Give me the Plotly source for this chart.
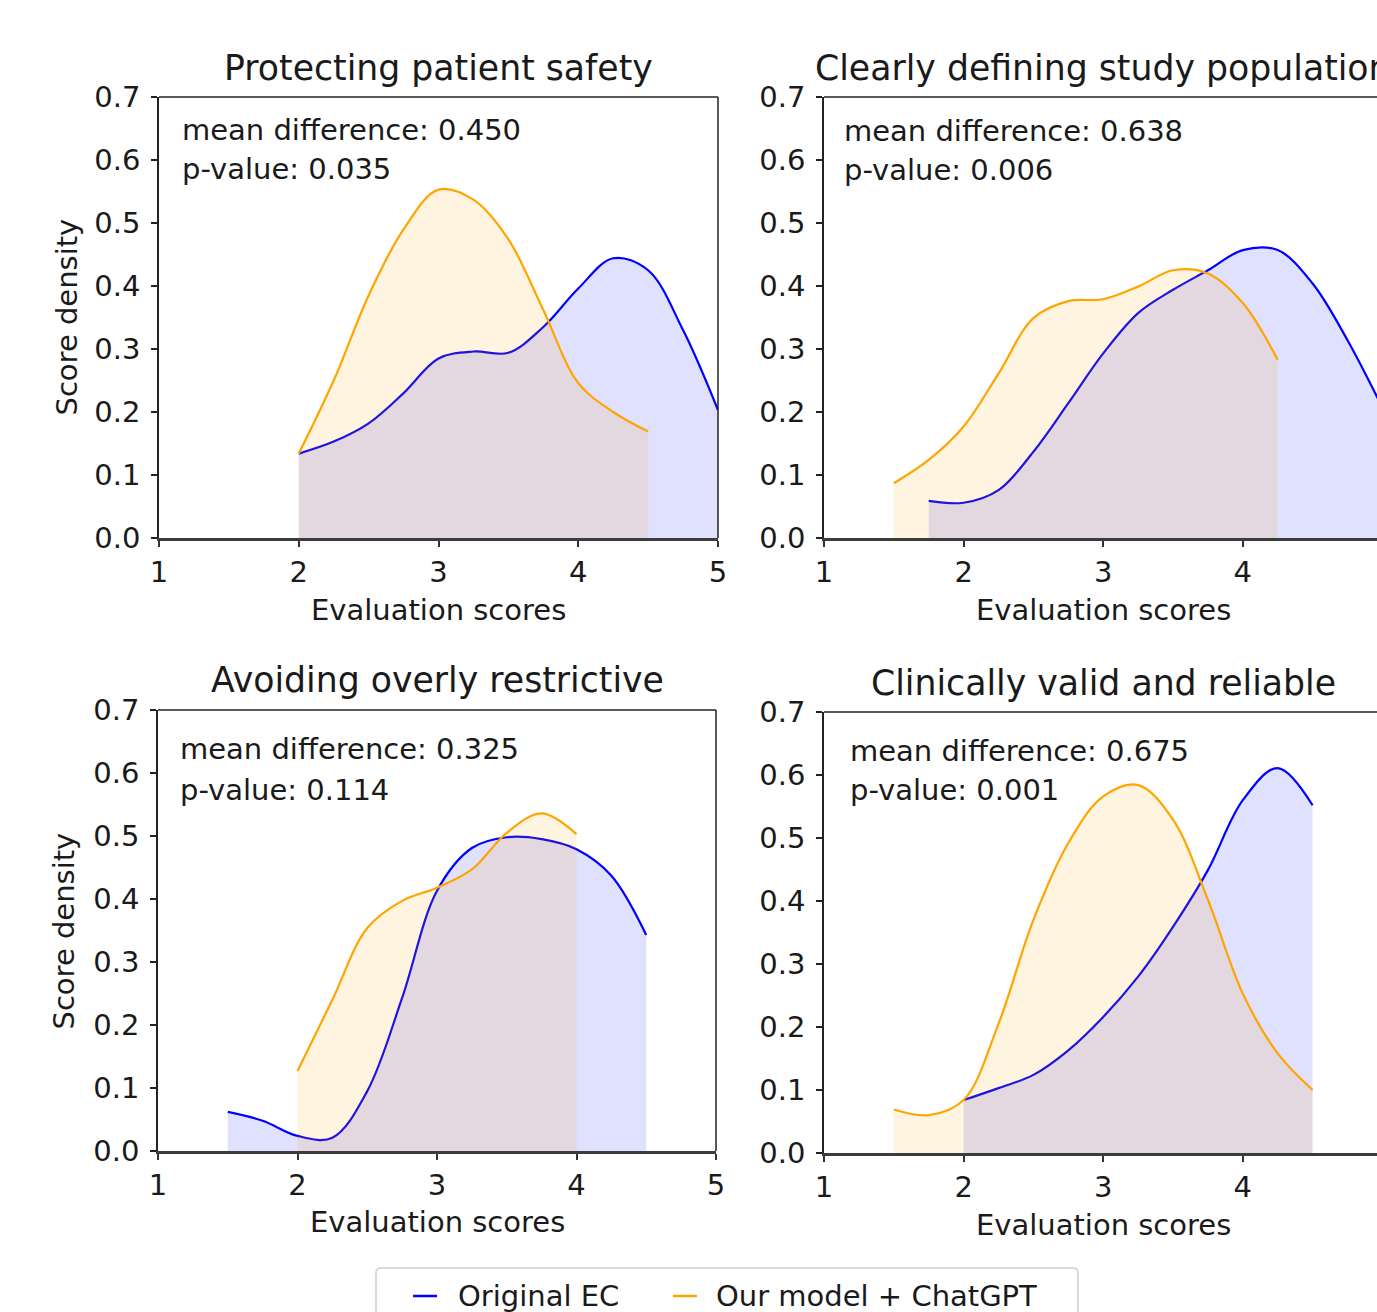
import plotly.graph_objects as go

# ---------------- data ----------------
titles = ["Protecting patient safety", "Clearly defining study population",
          "Avoiding overly restrictive", "Clinically valid and reliable"]
mean_diffs = ["0.450", "0.638", "0.325", "0.675"]
p_values = ["0.035", "0.006", "0.114", "0.001"]
series_names = ["Original EC", "Our model + ChatGPT"]
x_ticks = [1, 2, 3, 4, 5]
y_ticks = [0.0, 0.1, 0.2, 0.3, 0.4, 0.5, 0.6, 0.7]

# Panel 1: Protecting patient safety
p1_ec_x = [2.0, 2.25, 2.5, 2.75, 3.0, 3.25, 3.5, 3.75, 4.0, 4.25, 4.5, 4.75, 5.0]
p1_ec_y = [0.134, 0.153, 0.182, 0.23, 0.285, 0.296, 0.294, 0.335, 0.396, 0.444, 0.425, 0.33, 0.203]
p1_gpt_x = [2.0, 2.25, 2.5, 2.75, 3.0, 3.25, 3.5, 3.75, 4.0, 4.25, 4.5]
p1_gpt_y = [0.134, 0.25, 0.385, 0.49, 0.553, 0.537, 0.474, 0.362, 0.246, 0.2, 0.169]

# Panel 2: Clearly defining study population
p2_ec_x = [1.75, 2.0, 2.25, 2.5, 2.75, 3.0, 3.25, 3.5, 3.75, 4.0, 4.25, 4.5, 4.75, 5.0]
p2_ec_y = [0.059, 0.056, 0.076, 0.137, 0.214, 0.293, 0.357, 0.394, 0.425, 0.457, 0.457, 0.404, 0.314, 0.207]
p2_gpt_x = [1.5, 1.75, 2.0, 2.25, 2.5, 2.75, 3.0, 3.25, 3.5, 3.75, 4.0, 4.25]
p2_gpt_y = [0.087, 0.124, 0.177, 0.261, 0.349, 0.376, 0.379, 0.399, 0.425, 0.42, 0.373, 0.283]

# Panel 3: Avoiding overly restrictive
p3_ec_x = [1.5, 1.75, 2.0, 2.25, 2.5, 2.75, 3.0, 3.25, 3.5, 3.75, 4.0, 4.25, 4.5]
p3_ec_y = [0.062, 0.048, 0.024, 0.021, 0.095, 0.243, 0.413, 0.481, 0.498, 0.495, 0.479, 0.437, 0.343]
p3_gpt_x = [2.0, 2.25, 2.5, 2.75, 3.0, 3.25, 3.5, 3.75, 4.0]
p3_gpt_y = [0.127, 0.24, 0.354, 0.397, 0.418, 0.447, 0.505, 0.536, 0.503]

# Panel 4: Clinically valid and reliable
p4_ec_x = [2.0, 2.25, 2.5, 2.75, 3.0, 3.25, 3.5, 3.75, 4.0, 4.25, 4.5]
p4_ec_y = [0.084, 0.103, 0.124, 0.163, 0.216, 0.28, 0.359, 0.449, 0.56, 0.611, 0.552]
p4_gpt_x = [1.5, 1.75, 2.0, 2.25, 2.5, 2.75, 3.0, 3.25, 3.5, 3.75, 4.0, 4.25, 4.5]
p4_gpt_y = [0.069, 0.06, 0.084, 0.205, 0.37, 0.492, 0.566, 0.584, 0.529, 0.402, 0.253, 0.158, 0.1]

panels = [
    (p1_ec_x, p1_ec_y, p1_gpt_x, p1_gpt_y),
    (p2_ec_x, p2_ec_y, p2_gpt_x, p2_gpt_y),
    (p3_ec_x, p3_ec_y, p3_gpt_x, p3_gpt_y),
    (p4_ec_x, p4_ec_y, p4_gpt_x, p4_gpt_y),
]

# ---------------- style / layout ----------------
W, H = 1377, 1312
FONT = "DejaVu Sans"
TXT = "#1a1a1a"
BLUE = "#0000ff"
ORANGE = "#ffa500"
BLUE_FILL = "rgba(0,0,255,0.12)"
ORANGE_FILL = "rgba(255,165,0,0.12)"
LBL = 29
TTL = 34.7

# pixel boxes (left, right, top, bottom) for each panel
px_boxes = [
    (159, 718, 97, 538),
    (824, 1377, 97, 538),
    (158, 716, 710, 1151),
    (824, 1377, 712, 1153),
]
ppu = 139.6  # pixels per x unit

fig = go.Figure()
annotations = []
shapes = []

for i, (ex, ey, gx, gy) in enumerate(panels):
    n = i + 1
    xa = "x" if n == 1 else f"x{n}"
    ya = "y" if n == 1 else f"y{n}"
    fig.add_trace(go.Scatter(
        x=ex, y=ey, mode="lines", line=dict(color=BLUE, width=2.2, shape="spline", smoothing=1.0),
        fill="tozeroy", fillcolor=BLUE_FILL, name=series_names[0],
        showlegend=False, xaxis=xa, yaxis=ya, hoverinfo="skip"))
    fig.add_trace(go.Scatter(
        x=gx, y=gy, mode="lines", line=dict(color=ORANGE, width=2.2, shape="spline", smoothing=1.0),
        fill="tozeroy", fillcolor=ORANGE_FILL, name=series_names[1],
        showlegend=False, xaxis=xa, yaxis=ya, hoverinfo="skip"))

    l, r, t, b = px_boxes[i]
    if r >= W:
        dom_x = [l / W, 1.0]
        xmax = 1 + (r - l) / ppu
    else:
        dom_x = [l / W, r / W]
        xmax = 5
    dom_y = [1 - b / H, 1 - t / H]
    xkey = "xaxis" if n == 1 else f"xaxis{n}"
    ykey = "yaxis" if n == 1 else f"yaxis{n}"
    fig.update_layout(**{
        xkey: dict(domain=dom_x, range=[1, xmax], anchor=ya, tickvals=x_ticks,
                   ticks="outside", ticklen=6, tickwidth=1.5, tickcolor="#333",
                   showline=True, linecolor="#3c3c3c", linewidth=2.5, mirror=False,
                   showgrid=False, zeroline=False, ticklabelstandoff=0, automargin=False,
                   tickfont=dict(family=FONT, size=LBL, color=TXT)),
        ykey: dict(domain=dom_y, range=[0, 0.7], anchor=xa, tickvals=y_ticks, tickformat=".1f",
                   ticks="outside", ticklen=6, tickwidth=1.5, tickcolor="#222",
                   showline=True, linecolor="#222", linewidth=1.5, mirror=False,
                   showgrid=False, zeroline=False, ticklabelstandoff=5, automargin=False,
                   tickfont=dict(family=FONT, size=LBL, color=TXT)),
    })
    # top spine (and right spine for left panels)
    shapes.append(dict(type="line", xref=f"{xa} domain", yref=f"{ya} domain",
                       x0=0, x1=1, y0=1, y1=1, line=dict(color="#222", width=1.5)))
    if r < W:
        shapes.append(dict(type="line", xref=f"{xa} domain", yref=f"{ya} domain",
                           x0=1, x1=1, y0=0, y1=1, line=dict(color="#222", width=1.5)))
    # subplot title
    title_y_px = [68, 68, 680, 683][i]
    annotations.append(dict(text=titles[i], xref=xa, yref="paper", x=3, y=1 - title_y_px / H,
                            xanchor="center", yanchor="middle", showarrow=False,
                            font=dict(family=FONT, size=TTL, color=TXT)))
    # stats text
    sx = 1 + ([180, 842, 178, 848][i] - l) / ppu
    line1_px = [130, 131, 749, 751][i]
    line2_px = [169, 170, 790, 790][i]
    annotations.append(dict(text=f"mean difference: {mean_diffs[i]}", xref=xa, yref=ya,
                            x=sx, y=(b - line1_px) / 630, xanchor="left", yanchor="middle",
                            showarrow=False, font=dict(family=FONT, size=LBL, color=TXT)))
    annotations.append(dict(text=f"p-value: {p_values[i]}", xref=xa, yref=ya,
                            x=sx, y=(b - line2_px) / 630, xanchor="left", yanchor="middle",
                            showarrow=False, font=dict(family=FONT, size=LBL, color=TXT)))
    # x axis title
    xt_px = [610, 610, 1222, 1225][i]
    annotations.append(dict(text="Evaluation scores", xref=xa, yref="paper", x=3,
                            y=1 - xt_px / H, xanchor="center", yanchor="middle", showarrow=False,
                            font=dict(family=FONT, size=LBL, color=TXT)))
    # y axis title on left panels
    if n in (1, 3):
        annotations.append(dict(text="Score density", xref="paper", yref=f"{ya} domain",
                                x=[66, 0, 63, 0][i] / W, y=0.5, textangle=-90,
                                xanchor="center", yanchor="middle", showarrow=False,
                                font=dict(family=FONT, size=LBL, color=TXT)))

# ---------------- legend (drawn in paper space, box runs off the bottom edge) ----------------
lg_left, lg_right, lg_top, lg_bottom, rad = 376, 1078, 1268, 1340, 5
path = (f"M {lg_left/W},{1-(lg_top+rad)/H} "
        f"Q {lg_left/W},{1-lg_top/H} {(lg_left+rad)/W},{1-lg_top/H} "
        f"L {(lg_right-rad)/W},{1-lg_top/H} "
        f"Q {lg_right/W},{1-lg_top/H} {lg_right/W},{1-(lg_top+rad)/H} "
        f"L {lg_right/W},{1-lg_bottom/H} L {lg_left/W},{1-lg_bottom/H} Z")
shapes.append(dict(type="path", xref="paper", yref="paper", path=path,
                   fillcolor="rgba(255,255,255,0.9)", line=dict(color="#d0d0d0", width=1.5)))
legend_items = [(series_names[0], BLUE, 413, 456), (series_names[1], ORANGE, 673, 714)]
leg_y = 1296
for name, col, lx, tx in legend_items:
    shapes.append(dict(type="line", xref="paper", yref="paper",
                       x0=lx / W, x1=(lx + 24) / W, y0=1 - leg_y / H, y1=1 - leg_y / H,
                       line=dict(color=col, width=2.5)))
    annotations.append(dict(text=name, xref="paper", yref="paper", x=tx / W, y=1 - leg_y / H,
                            xanchor="left", yanchor="middle", showarrow=False,
                            font=dict(family=FONT, size=LBL, color=TXT)))

fig.update_layout(
    width=W, height=H,
    margin=dict(l=0, r=0, t=0, b=0, autoexpand=False),
    paper_bgcolor="white", plot_bgcolor="white",
    font=dict(family=FONT, size=LBL, color=TXT),
    annotations=annotations, shapes=shapes,
    showlegend=False,
)

fig.write_html("out.html")
